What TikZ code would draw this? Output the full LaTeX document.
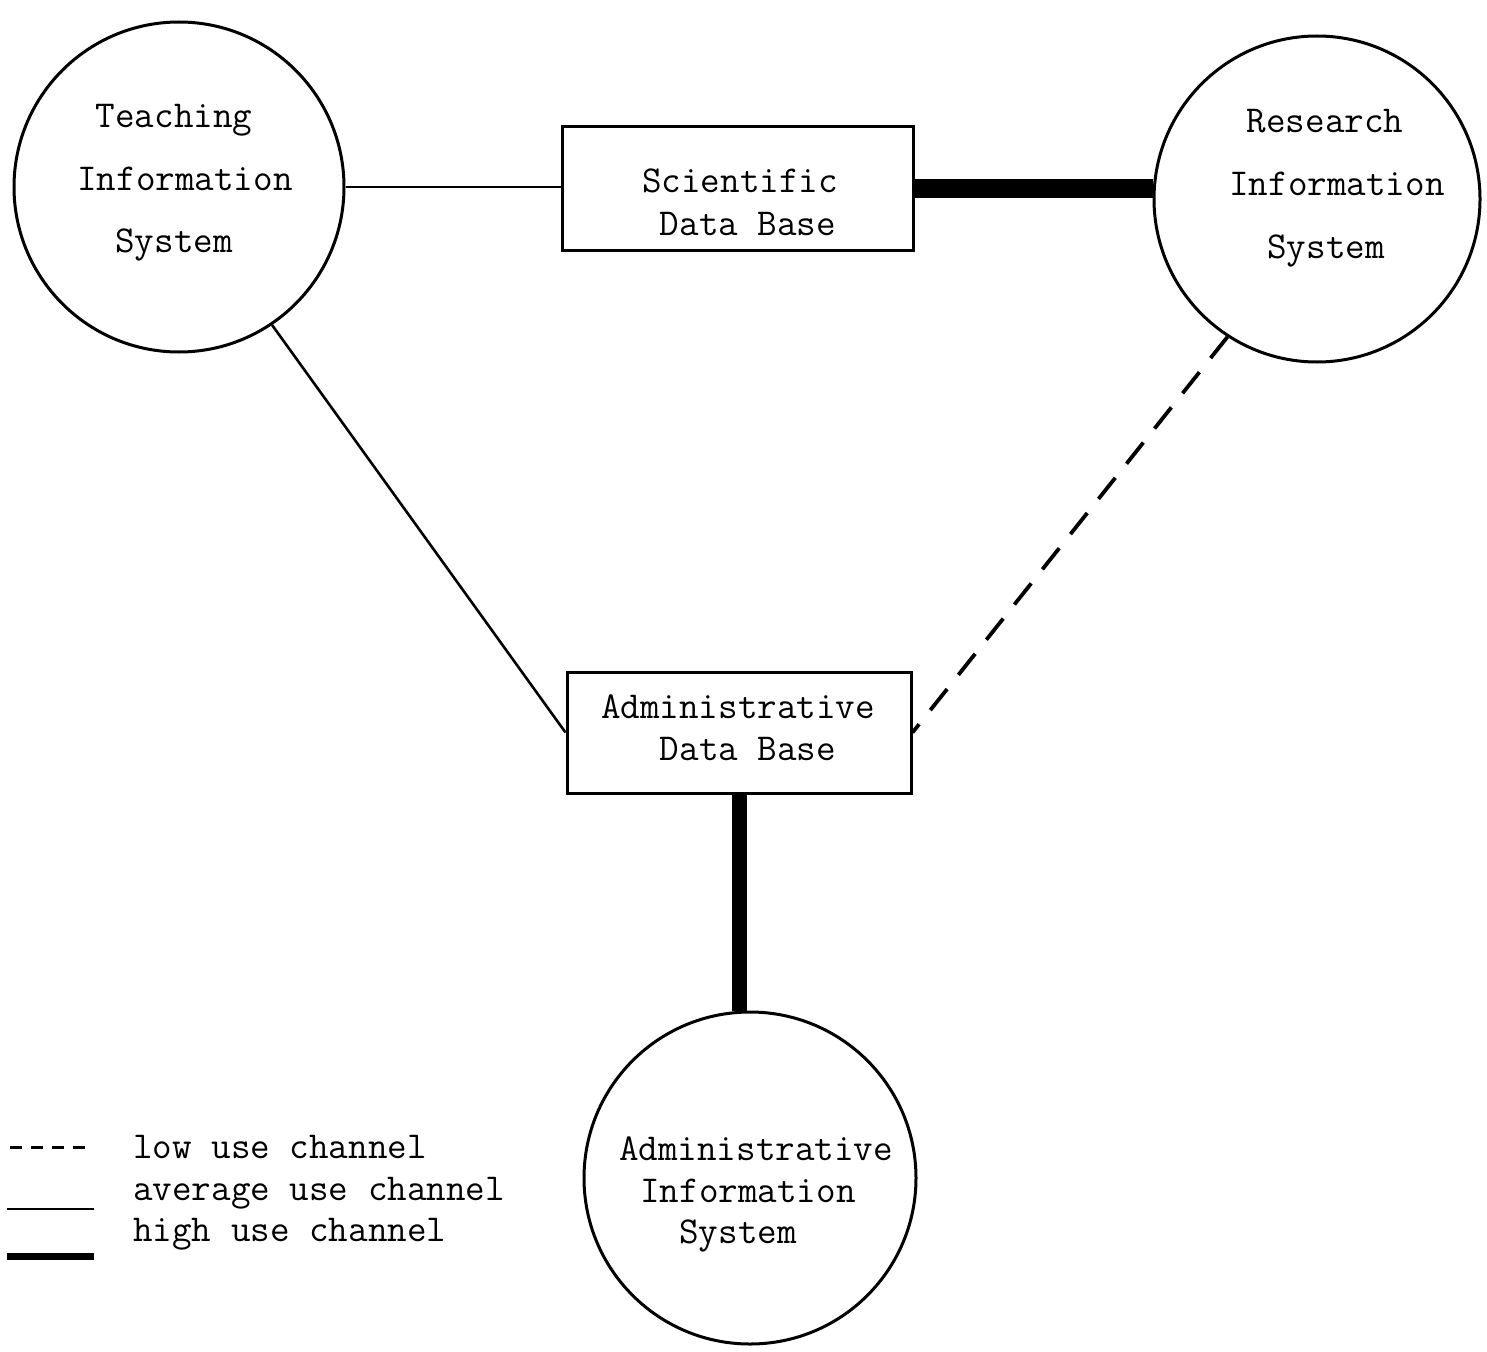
\documentclass[tikz,border=0pt]{standalone}
\usepackage{fontspec}
\begin{document}
\begin{tikzpicture}[x=1pt,y=-1pt,
  sys/.style={circle,draw,line width=3pt,minimum size=330pt,inner sep=0pt},
  dbbox/.style={rectangle,draw,line width=3pt,inner sep=0pt},
  txt/.style={font=\ttfamily\fontsize{38}{46}\selectfont\addfontfeature{FakeBold=0.8},inner sep=0pt,anchor=base},
  ltxt/.style={txt,anchor=base west},
  lowuse/.style={line width=3.8pt,dash pattern=on 27pt off 18pt},
  avguse/.style={line width=2.6pt},
  highuse/.style={line width=19pt},
]
\useasboundingbox (0,0) rectangle (1487,1351);
% systems
\node[sys] (teach) at (179,187) {};
\node[sys,minimum size=326pt] (res) at (1317,199) {};
\node[sys,minimum size=332pt] (adminsys) at (750,1178) {};
% data bases
\node[dbbox,minimum width=351pt,minimum height=123pt] (sci) at (737.5,188.5) {};
\node[dbbox,minimum width=344pt,minimum height=121pt] (adb) at (739,732.5) {};
% texts
\node[txt] (t1) at (174,128) {Teaching};
\node[txt] (t2) at (185,190) {Information};
\node[txt] (t3) at (174,252) {System};
\node[txt] (r1) at (1325,133) {Research};
\node[txt] (r2) at (1337,196) {Information};
\node[txt] (r3) at (1326,258) {System};
\node[txt] (s1) at (740,193) {Scientific};
\node[txt] (s2) at (748,235) {Data Base};
\node[txt] (d1) at (738,718) {Administrative};
\node[txt] (d2) at (748,760) {Data Base};
\node[txt] (a1) at (756,1160) {Administrative};
\node[txt] (a2) at (748,1202) {Information};
\node[txt] (a3) at (738,1243) {System};
% connectors
\draw[avguse] (teach.east) -- (teach.east -| sci.west);
\draw[highuse] (sci.east) -- (sci.east -| res.west);
\draw[avguse] (teach.-56) -- (adb.west);
\draw[lowuse] (res.237) -- (adb.east);
\draw[line width=15pt] (adb.south) -- (adb.south |- adminsys.north);
% legend
\coordinate (l1a) at (10,1147); \coordinate (l1b) at (86,1147);
\coordinate (l2a) at (7,1209);  \coordinate (l2b) at (94,1209);
\coordinate (l3a) at (7,1256);  \coordinate (l3b) at (94,1256);
\draw[line width=3pt,dash pattern=on 12pt off 9pt] (l1a) -- (l1b);
\draw[line width=2pt] (l2a) -- (l2b);
\draw[line width=7pt] (l3a) -- (l3b);
\node[ltxt] (g1) at (133,1158) {low use channel};
\node[ltxt] (g2) at (133,1200) {average use channel};
\node[ltxt] (g3) at (133,1241) {high use channel};
\end{tikzpicture}
\end{document}
